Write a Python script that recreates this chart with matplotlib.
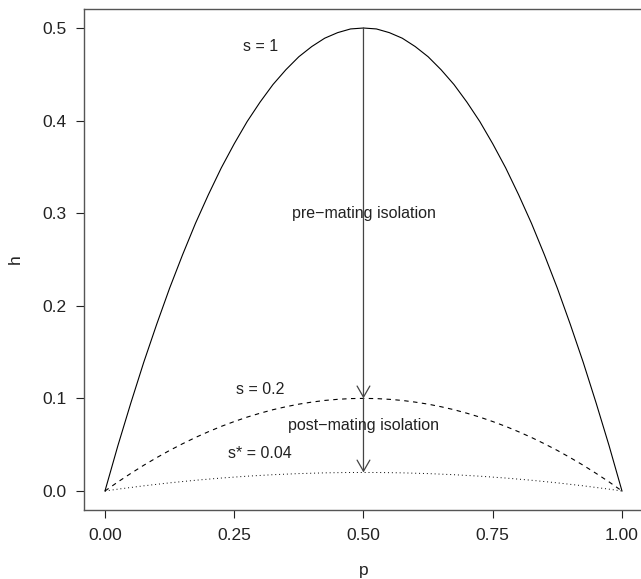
import matplotlib
matplotlib.use('Agg')
import matplotlib.pyplot as plt

plt.rcParams['font.family'] = ['Liberation Sans', 'DejaVu Sans']

# h values, p in steps of 0.025
p = [0.000, 0.025, 0.050, 0.075, 0.100, 0.125, 0.150, 0.175, 0.200, 0.225, 0.250,
     0.275, 0.300, 0.325, 0.350, 0.375, 0.400, 0.425, 0.450, 0.475, 0.500,
     0.525, 0.550, 0.575, 0.600, 0.625, 0.650, 0.675, 0.700, 0.725, 0.750,
     0.775, 0.800, 0.825, 0.850, 0.875, 0.900, 0.925, 0.950, 0.975, 1.000]
h_s1 = [0.000, 0.049, 0.095, 0.139, 0.180, 0.219, 0.255, 0.289, 0.320, 0.349, 0.375,
        0.399, 0.420, 0.439, 0.455, 0.469, 0.480, 0.489, 0.495, 0.499, 0.500,
        0.499, 0.495, 0.489, 0.480, 0.469, 0.455, 0.439, 0.420, 0.399, 0.375,
        0.349, 0.320, 0.289, 0.255, 0.219, 0.180, 0.139, 0.095, 0.049, 0.000]
h_s02 = [0.0000, 0.0098, 0.0190, 0.0278, 0.0360, 0.0438, 0.0510, 0.0578, 0.0640, 0.0698, 0.0750,
         0.0798, 0.0840, 0.0878, 0.0910, 0.0938, 0.0960, 0.0978, 0.0990, 0.0998, 0.1000,
         0.0998, 0.0990, 0.0978, 0.0960, 0.0938, 0.0910, 0.0878, 0.0840, 0.0798, 0.0750,
         0.0698, 0.0640, 0.0578, 0.0510, 0.0438, 0.0360, 0.0278, 0.0190, 0.0098, 0.0000]
h_s004 = [0.0000, 0.0020, 0.0038, 0.0056, 0.0072, 0.0088, 0.0102, 0.0116, 0.0128, 0.0140, 0.0150,
          0.0160, 0.0168, 0.0176, 0.0182, 0.0188, 0.0192, 0.0196, 0.0198, 0.0200, 0.0200,
          0.0200, 0.0198, 0.0196, 0.0192, 0.0188, 0.0182, 0.0176, 0.0168, 0.0160, 0.0150,
          0.0140, 0.0128, 0.0116, 0.0102, 0.0088, 0.0072, 0.0056, 0.0038, 0.0020, 0.0000]

x_ticks = [0.00, 0.25, 0.50, 0.75, 1.00]
x_labels = ['0.00', '0.25', '0.50', '0.75', '1.00']
y_ticks = [0.0, 0.1, 0.2, 0.3, 0.4, 0.5]
y_labels = ['0.0', '0.1', '0.2', '0.3', '0.4', '0.5']

labels = ['s = 1', 'pre\u2212mating isolation', 's = 0.2', 'post\u2212mating isolation', 's* = 0.04']
label_x = [0.30, 0.50, 0.30, 0.50, 0.30]
label_y = [0.48, 0.30, 0.11, 0.071, 0.04]

arrows = [(0.5, 0.5, 0.5, 0.1), (0.5, 0.1, 0.5, 0.02)]


def main():
    fig = plt.figure(figsize=(6.41, 5.79), dpi=100)
    ax = fig.add_axes([0.1315, 0.12, 0.8711, 0.8636])

    ax.plot(p, h_s1, color='black', lw=0.8, linestyle='-')
    ax.plot(p, h_s02, color='black', lw=0.8, linestyle=(0, (4, 4)))
    ax.plot(p, h_s004, color='black', lw=0.7, linestyle=(0, (1, 3)))

    for x0, y0, x1, y1 in arrows:
        ax.annotate('', xy=(x1, y1), xytext=(x0, y0),
                    arrowprops=dict(arrowstyle='->,head_length=0.8,head_width=0.46',
                                    mutation_scale=10, color='#444444', lw=0.9,
                                    shrinkA=0, shrinkB=0))

    for txt, tx, ty in zip(labels, label_x, label_y):
        ax.text(tx, ty, txt, ha='center', va='center', fontsize=11.5, color='#222222')

    ax.set_xlim(-0.04, 1.04)
    ax.set_ylim(-0.02, 0.52)
    ax.set_xticks(x_ticks)
    ax.set_xticklabels(x_labels)
    ax.set_yticks(y_ticks)
    ax.set_yticklabels(y_labels)
    ax.tick_params(axis='both', direction='out', length=6.1, width=0.8,
                   labelsize=12.5, colors='#222222')
    ax.tick_params(axis='x', pad=7)
    ax.tick_params(axis='y', pad=6.5)

    for sp in ax.spines.values():
        sp.set_color('#555555')
        sp.set_linewidth(1.0)

    ax.set_xlabel('p', fontsize=12.5, color='#222222', va='center')
    ax.set_ylabel('h', fontsize=12.5, color='#222222', va='center')
    ax.xaxis.set_label_coords(0.5, -0.121)
    ax.yaxis.set_label_coords(-0.1229, 0.5)

    fig.savefig('out.png', dpi=100)


if __name__ == '__main__':
    main()
